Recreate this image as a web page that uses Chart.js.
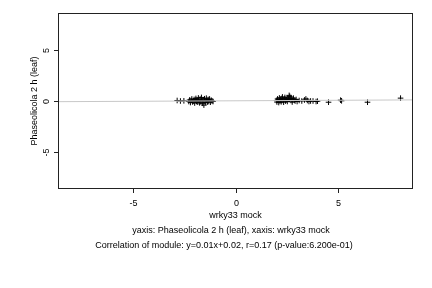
<!DOCTYPE html>
<html>
<head>
<meta charset="utf-8">
<script src="https://cdn.jsdelivr.net/npm/chart.js@4/dist/chart.umd.min.js"></script>
<style>
  html, body { margin: 0; padding: 0; background: #fff; }
  #wrap { width: 432px; height: 288px; }
</style>
</head>
<body>
<div id="wrap"><canvas id="scatterChart" width="432" height="288"></canvas></div>
<script>
// Data
const geneX = [
  -2.86, -2.70, -2.53, -2.29, -2.25, -2.21, -2.18, -2.14, -2.10, -2.07,
  -2.03, -2.00, -1.97, -1.94, -1.91, -1.88, -1.85, -1.82, -1.79, -1.76,
  -1.73, -1.70, -1.67, -1.64, -1.61, -1.58, -1.55, -1.52, -1.49, -1.46,
  -1.43, -1.40, -1.37, -1.34, -1.31, -1.27, -1.23, -1.19, -1.15, -1.10,
  2.00, 2.03, 2.06, 2.09, 2.12, 2.15, 2.18, 2.21, 2.24, 2.27,
  2.30, 2.33, 2.36, 2.39, 2.42, 2.45, 2.48, 2.51, 2.54, 2.57,
  2.60, 2.63, 2.66, 2.69, 2.72, 2.75, 2.78, 2.81, 2.84, 2.88,
  2.92, 2.97, 3.02, 3.12, 3.25, 3.38, 3.45, 3.52, 3.60, 3.68,
  3.80, 3.95, 4.02, 4.56, 5.15, 5.20, 6.47, 8.09
];
const geneY = [
  0.05, 0.00, 0.02, -0.05, 0.10, -0.15, 0.05, 0.20, -0.10, 0.00,
  0.15, -0.20, 0.08, 0.25, -0.05, 0.12, -0.12, 0.30, 0.02, -0.18,
  0.18, -0.08, 0.35, 0.05, -0.22, 0.10, -0.40, 0.22, 0.00, -0.15,
  0.28, 0.05, -0.10, 0.15, -0.05, 0.20, -0.12, 0.08, 0.00, -0.05,
  0.05, -0.10, 0.20, 0.10, -0.15, 0.30, 0.00, 0.15, -0.08, 0.25,
  0.40, 0.05, -0.12, 0.18, 0.35, 0.00, 0.22, 0.10, -0.05, 0.30,
  0.15, 0.55, 0.45, 0.25, 0.05, 0.20, -0.10, 0.12, 0.28, 0.08,
  0.00, 0.15, -0.05, 0.05, 0.00, 0.10, 0.20, 0.05, -0.05, 0.00,
  0.00, -0.05, -0.02, -0.12, 0.08, 0.02, -0.12, 0.28
];
const xTicks = [-5, 0, 5];
const yTicks = [-5, 0, 5];
const xRange = [-8.7, 8.7];
const yRange = [-8.6, 8.6];
const fitSlope = [0.01];
const fitIntercept = [0.02];

const xTitle = 'wrky33 mock';
const yTitle = 'Phaseolicola 2 h (leaf)';
const captionLines = [
  'yaxis: Phaseolicola 2 h (leaf), xaxis: wrky33 mock',
  'Correlation of module: y=0.01x+0.02, r=0.17 (p-value:6.200e-01)'
];

const points = geneX.map((x, i) => ({ x: x, y: geneY[i] }));
const fitLine = xRange.map(x => ({ x: x, y: fitSlope[0] * x + fitIntercept[0] }));

const FONT = '9px "Liberation Sans", Arial, sans-serif';

// R-style frame, ticks and labels
const rFrame = {
  id: 'rFrame',
  afterDraw(chart) {
    const ctx = chart.ctx;
    const a = chart.chartArea;
    const xs = chart.scales.x;
    const ys = chart.scales.y;
    ctx.save();
    ctx.strokeStyle = '#222';
    ctx.lineWidth = 1;
    ctx.strokeRect(a.left + 0.5, a.top + 0.5, a.right - a.left - 1, a.bottom - a.top - 1);

    ctx.fillStyle = '#000';
    ctx.font = FONT;
    ctx.textAlign = 'center';
    ctx.textBaseline = 'middle';
    xTicks.forEach(v => {
      const px = Math.round(xs.getPixelForValue(v)) + 0.5;
      ctx.beginPath();
      ctx.moveTo(px, a.bottom);
      ctx.lineTo(px, a.bottom + 4);
      ctx.stroke();
      ctx.fillText(String(v), px, a.bottom + 15);
    });
    yTicks.forEach(v => {
      const py = Math.round(ys.getPixelForValue(v)) + 0.5;
      ctx.beginPath();
      ctx.moveTo(a.left, py);
      ctx.lineTo(a.left - 4, py);
      ctx.stroke();
      ctx.save();
      ctx.translate(a.left - 11, py);
      ctx.rotate(-Math.PI / 2);
      ctx.fillText(String(v), 0, 0);
      ctx.restore();
    });

    ctx.fillText(xTitle, (a.left + a.right) / 2, a.bottom + 27);
    ctx.save();
    ctx.translate(a.left - 23, (a.top + a.bottom) / 2);
    ctx.rotate(-Math.PI / 2);
    ctx.fillText(yTitle, 0, 0);
    ctx.restore();

    ctx.fillText(captionLines[0], 231, a.bottom + 42);
    ctx.fillText(captionLines[1], 224, a.bottom + 57);
    ctx.restore();
  }
};

const chart = new Chart(document.getElementById('scatterChart'), {
  type: 'scatter',
  data: {
    datasets: [{
      type: 'line',
      label: 'fit',
      data: fitLine,
      borderColor: '#c8c8c8',
      borderWidth: 1,
      pointRadius: 0,
      fill: false
    }, {
      label: 'genes',
      data: points,
      pointStyle: 'cross',
      pointRadius: 2.8,
      borderColor: '#000',
      backgroundColor: '#000',
      borderWidth: 1
    }]
  },
  options: {
    responsive: false,
    animation: false,
    events: [],
    layout: { padding: { left: 58, right: 19, top: 13, bottom: 99 } },
    plugins: { legend: { display: false }, tooltip: { enabled: false } },
    scales: {
      x: { type: 'linear', min: xRange[0], max: xRange[1], display: false },
      y: { type: 'linear', min: yRange[0], max: yRange[1], display: false }
    }
  },
  plugins: [rFrame]
});
</script>
</body>
</html>
